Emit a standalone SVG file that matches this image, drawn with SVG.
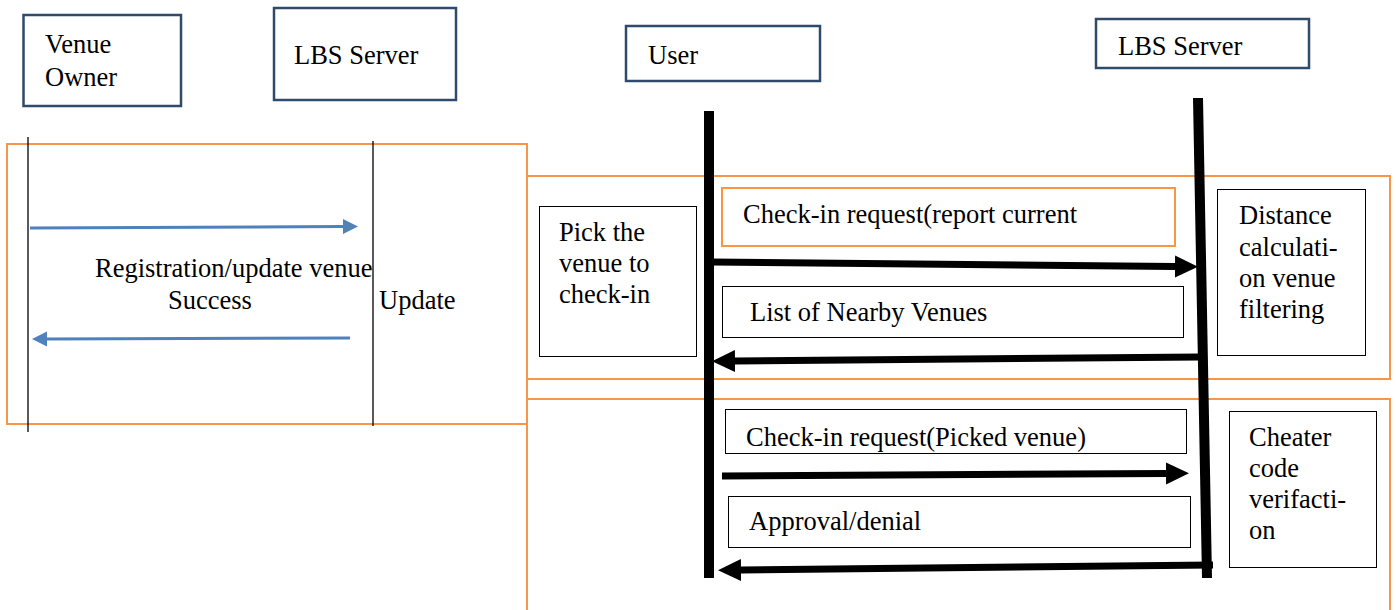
<svg xmlns="http://www.w3.org/2000/svg" width="1396" height="610" viewBox="0 0 1396 610">
<style>
  text { font-family: "Liberation Serif", "Times New Roman", serif; font-size: 26.5px; fill: #000; }
  .actor { fill: #fff; stroke: #2f4a6b; stroke-width: 2.5; }
  .frame { fill: none; stroke: #f79646; stroke-width: 2; }
  .note { fill: #fff; stroke: #000; stroke-width: 1; }
  .onote { fill: #fff; stroke: #f79646; stroke-width: 2; }
  .thin { stroke: #000; stroke-width: 1.3; fill: none; }
  .thick { stroke: #000; stroke-width: 10; fill: none; }
  .blue { stroke: #4f81bd; stroke-width: 3; fill: none; marker-end: url(#bh); }
  .blk { stroke: #000; stroke-width: 7; fill: none; marker-end: url(#kh); }
</style>
<defs>
  <marker id="bh" markerUnits="userSpaceOnUse" markerWidth="16" markerHeight="16" refX="0" refY="8" orient="auto">
    <polygon points="0,0.5 15,8 0,15.5" fill="#4f81bd"/>
  </marker>
  <marker id="kh" markerUnits="userSpaceOnUse" markerWidth="24" markerHeight="24" refX="0" refY="12" orient="auto">
    <polygon points="0,1 23,12 0,23" fill="#000"/>
  </marker>
  <clipPath id="clipReq2"><rect x="725" y="409" width="462" height="45"/></clipPath>
</defs>
<rect width="1396" height="610" fill="#fff"/>

<!-- frames -->
<g id="frames">
  <rect class="frame" x="7" y="144" width="520" height="280"/>
  <rect class="frame" x="527" y="176" width="863" height="203"/>
  <path class="frame" d="M527,610 V399 H1390 V610"/>
</g>

<!-- actors -->
<g id="venue-owner">
  <rect class="actor" x="23.5" y="15" width="157.5" height="91"/>
  <text x="45" y="53">Venue</text>
  <text x="45" y="86">Owner</text>
</g>
<g id="lbs-server-left">
  <rect class="actor" x="274" y="8" width="182" height="92"/>
  <text x="294" y="64">LBS Server</text>
</g>
<g id="user">
  <rect class="actor" x="626" y="26" width="194" height="55"/>
  <text x="648" y="64">User</text>
</g>
<g id="lbs-server-right">
  <rect class="actor" x="1096" y="19" width="213" height="49"/>
  <text x="1118" y="55">LBS Server</text>
</g>

<!-- notes -->
<g id="pick-venue">
  <rect class="note" x="539.5" y="206.5" width="157" height="150"/>
  <text x="559" y="241">Pick the</text>
  <text x="559" y="272">venue to</text>
  <text x="559" y="303">check-in</text>
</g>
<g id="checkin-request-1">
  <rect class="onote" x="722" y="188" width="453" height="58"/>
  <text x="743" y="223">Check-in request(report current</text>
</g>
<g id="nearby-venues">
  <rect class="note" x="722.5" y="286.5" width="461" height="51"/>
  <text x="750" y="321">List of Nearby Venues</text>
</g>
<g id="distance-calc">
  <rect class="note" x="1217.5" y="189.5" width="148" height="166"/>
  <text x="1239" y="224">Distance</text>
  <text x="1239" y="256">calculati-</text>
  <text x="1239" y="287">on venue</text>
  <text x="1239" y="318">filtering</text>
</g>
<g id="checkin-request-2">
  <rect class="note" x="725.5" y="409.5" width="461" height="44"/>
  <text x="746" y="446" clip-path="url(#clipReq2)">Check-in request(Picked venue)</text>
</g>
<g id="approval">
  <rect class="note" x="728.5" y="496.5" width="462" height="51"/>
  <text x="749" y="530">Approval/denial</text>
</g>
<g id="cheater-code">
  <rect class="note" x="1229.5" y="411.5" width="147" height="156"/>
  <text x="1249" y="446">Cheater</text>
  <text x="1249" y="477">code</text>
  <text x="1249" y="508">verifacti-</text>
  <text x="1249" y="539">on</text>
</g>

<!-- left labels -->
<g id="left-labels">
  <text x="95" y="277">Registration/update venue</text>
  <text x="168" y="309">Success</text>
  <text x="379" y="309">Update</text>
</g>

<!-- connectors -->
<g id="connectors">
  <line class="thin" x1="28" y1="137" x2="28" y2="432"/>
  <line class="thin" x1="373" y1="141" x2="373" y2="426"/>
  <line class="thick" x1="709" y1="111" x2="709" y2="578"/>
  <line class="thick" x1="1198" y1="98" x2="1207" y2="578"/>

  <line class="blue" x1="30" y1="228" x2="343" y2="226.5"/>
  <line class="blue" x1="350" y1="338" x2="47" y2="339"/>

  <line class="blk" x1="711" y1="262" x2="1175" y2="266.5"/>
  <line class="blk" x1="1200" y1="357" x2="735" y2="361"/>
  <line class="blk" x1="722" y1="476" x2="1166" y2="473.5"/>
  <line class="blk" x1="1213" y1="565" x2="741" y2="570"/>
</g>
</svg>
